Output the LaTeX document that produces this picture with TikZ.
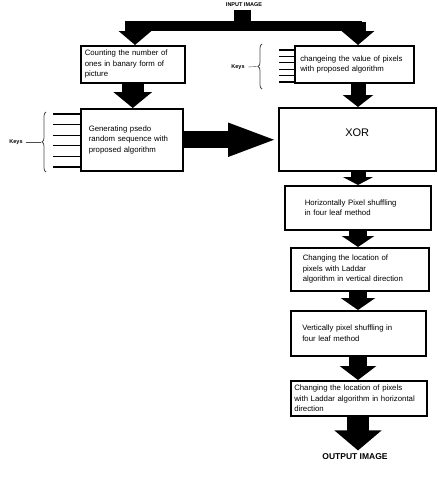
\documentclass[tikz,border=0pt]{standalone}
\usepackage{fontspec}
\setmainfont{Liberation Sans}
\usetikzlibrary{arrows.meta,calc,decorations.pathreplacing}

\tikzset{
  box/.style={draw, line width=1.5pt, align=left, inner xsep=3pt,
    font=\fontsize{7.8}{10.5}\selectfont},
  fat/.style={line width=15pt, -{Triangle[length=12pt,width=32pt]}},
  comb/.style={line width=1.2pt},
  keybrace/.style={decorate, decoration={brace, amplitude=4pt}, gray!60!black, thick},
  keylabel/.style={font=\bfseries\fontsize{5.5}{6}\selectfont}
}

\begin{document}
\begin{tikzpicture}[x=1pt,y=-1pt]
\useasboundingbox (0,0) rectangle (438,480);

% boxes
\node[keylabel] (input) at (244,5) {INPUT IMAGE};
\node[box, anchor=north west, minimum width=104pt, minimum height=37pt, text width=96pt] (count) at (80,45)
  {Counting the number of\\ones in banary form of\\picture};
\node[box, anchor=north west, minimum width=119pt, minimum height=37pt, text width=108pt] (change) at (294,45)
  {changeing the value of pixels\\with proposed algorithm};
\node[box, anchor=north west, minimum width=102pt, minimum height=62pt, text width=86pt] (gen) at (80,108)
  {Generating psedo\\random sequence with\\proposed algorithm\\[4pt]};
\node[box, anchor=north west, minimum width=157pt, minimum height=63pt, font=\fontsize{11}{12}\selectfont] (xor) at (278,107)
  {XOR\\[2pt]};
\node[box, anchor=north west, minimum width=146pt, minimum height=44pt, text width=106pt] (hshuf) at (284,185)
  {Horizontally Pixel shuffling\\in four leaf method};
\node[box, anchor=north west, minimum width=138pt, minimum height=43pt, text width=114pt] (lvert) at (290,247)
  {Changing the location of\\pixels with Laddar\\algorithm in vertical direction};
\node[box, anchor=north west, minimum width=135pt, minimum height=45pt, text width=112pt] (vshuf) at (290,310)
  {Vertically pixel shuffling in\\four leaf method};
\node[box, anchor=north west, minimum width=136pt, minimum height=35pt, text width=129pt] (lhor) at (290,380)
  {Changing the location of pixels\\with Laddar algorithm in horizontal\\direction};
\node[font=\bfseries\fontsize{8.5}{9}\selectfont] (output) at (355,457) {OUTPUT IMAGE};

% split of the input
\coordinate (split) at (242,26);
\coordinate (bl) at (135,26);
\coordinate (br) at (358,26);
\draw[line width=17pt] (input.south -| split) -- (split);
\draw[line width=10pt] ([xshift=-10pt]bl) -- ([xshift=4pt]br);
\draw[fat, -{Triangle[length=14pt,width=32pt]}] ([yshift=4pt]bl) -- (bl |- count.north);
\draw[fat, -{Triangle[length=14pt,width=32pt]}] ([yshift=4pt]br) -- (br |- change.north);

% fat arrows
\draw[fat, line width=22pt, -{Triangle[length=16pt,width=38pt]}] (count.south) -- (count.south |- gen.north);
\draw[fat, -{Triangle[length=12pt,width=30pt]}] (change.south -| br) -- (br |- xor.north);
\draw[fat, line width=17pt, -{Triangle[length=50pt,width=30pt]}] (gen.east) -- (gen.east -| xor.west);
\draw[fat, -{Triangle[length=8pt,width=30pt]}] (xor.south -| br) -- (br |- hshuf.north);
\draw[fat, line width=18pt, -{Triangle[length=11pt,width=32pt]}] (hshuf.south -| br) -- (br |- lvert.north);
\draw[fat, line width=18pt, -{Triangle[length=12pt,width=34pt]}] (lvert.south -| br) -- (br |- vshuf.north);
\draw[fat, line width=18pt, -{Triangle[length=14pt,width=36pt]}] (vshuf.south -| br) -- (br |- lhor.north);
\draw[fat, line width=22pt, -{Triangle[length=20pt,width=46pt]}] (lhor.south -| br) -- (br |- output.north);

% keys
\foreach \k in {0,...,5}
  \draw[comb] ($(change.north west)+(0,5+6.4*\k)$) -- ++(-15,0);
\draw[keybrace] (262,89) -- (262,44);
\coordinate (kta) at (257,66.5);
\node[keylabel] (keysA) at (238,67) {Keys};
\draw[gray!60!black] (keysA.east) -- (kta);

\foreach \k in {0,...,5}
  \draw[comb] ($(gen.north west)+(0,6+10.6*\k)$) -- ++(-27,0);
\draw[keybrace] (46,172) -- (46,112);
\coordinate (ktb) at (41,142);
\node[keylabel] (keysB) at (16,142) {Keys};
\draw[gray!60!black] (keysB.east) -- (ktb);

\end{tikzpicture}
\end{document}
